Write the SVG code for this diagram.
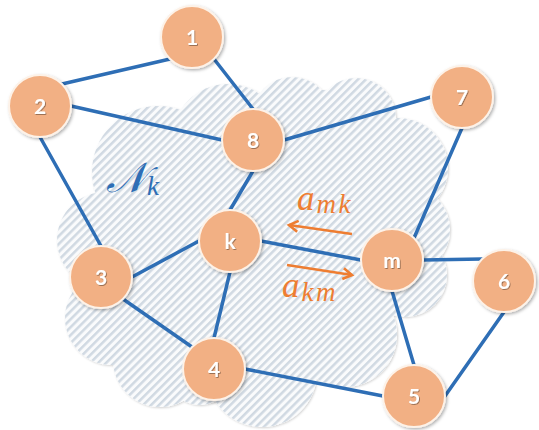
<svg xmlns="http://www.w3.org/2000/svg" width="539" height="430" viewBox="0 0 539 430">
<style>
.node circle{fill:#f2b084;stroke:#fdf2e8;stroke-width:2;filter:url(#sh)}
.node text{font-family:Lato,"Open Sans",sans-serif;font-weight:bold;font-size:21px;fill:#fff;text-anchor:middle;filter:url(#tsh)}
.edge{stroke:#2e6eb5;stroke-width:3.5;stroke-linecap:round;fill:none}
.arr{stroke:#ee7d31;stroke-width:2.6;fill:none;marker-end:url(#ah)}
.mo{font-family:"Liberation Serif","DejaVu Serif",serif;font-style:italic;fill:#ee7d31}
.sub{font-size:27px;letter-spacing:2.5px}
.mb{font-family:"DejaVu Serif","DejaVu Sans",serif;font-style:italic;fill:#2e6eb5}
</style>
<defs>
<pattern id="hatch" patternUnits="userSpaceOnUse" width="5.6" height="6" patternTransform="rotate(45)">
<rect width="5.6" height="6" fill="#fafbfc"/>
<rect width="2.5" height="6" fill="#d0d9e2"/>
</pattern>
<g id="cloudShape">
<circle cx="158" cy="172" r="66"/>
<circle cx="228" cy="140" r="56"/>
<circle cx="292" cy="117" r="40"/>
<circle cx="356" cy="118" r="40"/>
<circle cx="398" cy="168" r="50"/>
<circle cx="405" cy="230" r="45"/>
<circle cx="405" cy="275" r="42"/>
<circle cx="345" cy="335" r="52"/>
<circle cx="262" cy="372" r="55"/>
<circle cx="200" cy="370" r="35"/>
<circle cx="160" cy="360" r="47"/>
<circle cx="105" cy="240" r="48"/>
<circle cx="112" cy="318" r="47"/>
<polygon points="150,140 228,100 292,90 356,90 400,130 420,200 420,270 390,320 340,370 262,400 200,390 150,380 110,340 90,250 100,190"/>
</g>
<filter id="sh" x="-30%" y="-30%" width="170%" height="170%"><feDropShadow dx="1.5" dy="1.5" stdDeviation="1.5" flood-color="#000" flood-opacity="0.3"/></filter>
<filter id="tsh" x="-30%" y="-30%" width="170%" height="170%"><feDropShadow dx="0.8" dy="0.8" stdDeviation="0.6" flood-color="#000" flood-opacity="0.45"/></filter>
<filter id="csh" x="-10%" y="-10%" width="130%" height="130%"><feDropShadow dx="1" dy="1" stdDeviation="1.2" flood-color="#000" flood-opacity="0.18"/></filter>
<marker id="ah" markerUnits="userSpaceOnUse" markerWidth="14" markerHeight="14" refX="11" refY="7" orient="auto"><path d="M2,1.5 L11,7 L2,12.5" fill="none" stroke="#ee7d31" stroke-width="2.6"/></marker>
</defs>
<rect width="539" height="430" fill="#fff"/>
<g id="cloud">
<g filter="url(#csh)" fill="#fafbfc"><use href="#cloudShape"/></g>
<g fill="url(#hatch)"><use href="#cloudShape"/></g>
</g>
<g id="connectors">
<line class="edge" x1="170" y1="59" x2="62" y2="84"/>
<line class="edge" x1="214" y1="59" x2="253" y2="109"/>
<line class="edge" x1="71" y1="106" x2="222" y2="140"/>
<line class="edge" x1="40" y1="137" x2="101" y2="246"/>
<line class="edge" x1="284" y1="140" x2="431" y2="97"/>
<line class="edge" x1="253" y1="171" x2="230" y2="210"/>
<line class="edge" x1="462" y1="128" x2="414" y2="238"/>
<line class="edge" x1="199" y1="241" x2="132" y2="277"/>
<line class="edge" x1="230" y1="272" x2="214" y2="338"/>
<line class="edge" x1="261" y1="241" x2="361" y2="260"/>
<line class="edge" x1="123" y1="299" x2="192" y2="347"/>
<line class="edge" x1="245" y1="369" x2="383" y2="396"/>
<line class="edge" x1="423" y1="260" x2="482" y2="259"/>
<line class="edge" x1="392" y1="291" x2="414" y2="365"/>
<line class="edge" x1="445" y1="396" x2="504" y2="312"/>
</g>
<g id="node-1" class="node"><circle cx="192" cy="37" r="31"/><text x="192" y="44.5">1</text></g>
<g id="node-2" class="node"><circle cx="40" cy="106" r="31"/><text x="40" y="113.5">2</text></g>
<g id="node-8" class="node"><circle cx="253" cy="140" r="31"/><text x="253" y="147.5">8</text></g>
<g id="node-7" class="node"><circle cx="462" cy="97" r="31"/><text x="462" y="104.5">7</text></g>
<g id="node-k" class="node"><circle cx="230" cy="241" r="31"/><text x="230" y="248.5">k</text></g>
<g id="node-3" class="node"><circle cx="101" cy="277" r="31"/><text x="101" y="284.5">3</text></g>
<g id="node-4" class="node"><circle cx="214" cy="369" r="31"/><text x="214" y="376.5">4</text></g>
<g id="node-m" class="node"><circle cx="392" cy="260" r="31"/><text x="392" y="267.5">m</text></g>
<g id="node-6" class="node"><circle cx="504" cy="281" r="31"/><text x="504" y="288.5">6</text></g>
<g id="node-5" class="node"><circle cx="414" cy="396" r="31"/><text x="414" y="403.5">5</text></g>
<g id="annotations">
<line class="arr" x1="352" y1="234" x2="289" y2="225"/>
<line class="arr" x1="287" y1="265" x2="352" y2="275"/>
<text class="mo" x="297" y="210" font-size="35">a<tspan class="sub" dx="2" dy="3">mk</tspan></text>
<text class="mo" x="282" y="297" font-size="35">a<tspan class="sub" dx="2" dy="4">km</tspan></text>
<text class="mb" x="106" y="192" font-size="42">𝒩<tspan class="mo" style="fill:#2e6eb5" font-size="27" dx="1" dy="3">k</tspan></text>
</g>
</svg>
